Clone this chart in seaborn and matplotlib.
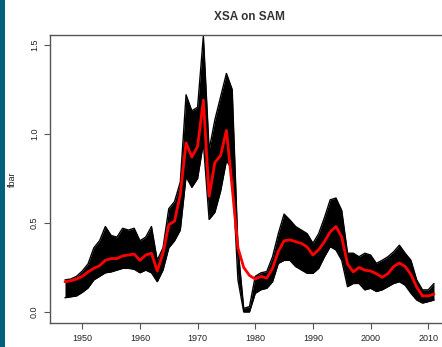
import pandas as pd
import matplotlib
matplotlib.use('Agg')
import matplotlib.pyplot as plt
import seaborn as sns
from matplotlib.patches import Rectangle

# --- data ---
years = list(range(1947, 2012))

# SAM estimate (red line)
fbar_sam = [0.17, 0.175, 0.185, 0.20, 0.225, 0.245, 0.26, 0.29, 0.30, 0.30,
            0.315, 0.32, 0.325, 0.29, 0.32, 0.33, 0.23, 0.33, 0.49, 0.51,
            0.66, 0.95, 0.87, 0.93, 1.19, 0.65, 0.84, 0.88, 1.02, 0.70,
            0.36, 0.25, 0.205, 0.185, 0.20, 0.19, 0.245, 0.34, 0.40, 0.405,
            0.395, 0.385, 0.365, 0.32, 0.35, 0.395, 0.45, 0.48, 0.42, 0.27,
            0.225, 0.25, 0.235, 0.23, 0.215, 0.195, 0.215, 0.255, 0.275, 0.255,
            0.21, 0.14, 0.09, 0.09, 0.10]

# XSA runs (black band): lowest and highest run per year
xsa_low = [0.08, 0.085, 0.09, 0.11, 0.135, 0.18, 0.20, 0.22, 0.225, 0.235,
           0.245, 0.245, 0.24, 0.22, 0.235, 0.22, 0.17, 0.235, 0.36, 0.40,
           0.46, 0.76, 0.70, 0.75, 0.95, 0.52, 0.56, 0.68, 0.85, 0.80,
           0.18, 0.0, 0.0, 0.105, 0.125, 0.133, 0.17, 0.273, 0.29, 0.29,
           0.255, 0.236, 0.217, 0.217, 0.245, 0.31, 0.367, 0.348, 0.29, 0.142,
           0.16, 0.16, 0.124, 0.133, 0.115, 0.124, 0.142, 0.16, 0.17, 0.15,
           0.105, 0.067, 0.05, 0.058, 0.067]
xsa_high = [0.18, 0.185, 0.20, 0.23, 0.27, 0.36, 0.40, 0.48, 0.43, 0.42,
            0.47, 0.46, 0.47, 0.40, 0.42, 0.48, 0.29, 0.36, 0.58, 0.62,
            0.73, 1.22, 1.13, 1.15, 1.55, 0.91, 1.08, 1.21, 1.34, 1.25,
            0.36, 0.02, 0.03, 0.20, 0.22, 0.227, 0.31, 0.44, 0.55, 0.517,
            0.48, 0.46, 0.44, 0.386, 0.44, 0.53, 0.63, 0.64, 0.57, 0.33,
            0.33, 0.31, 0.33, 0.32, 0.273, 0.29, 0.31, 0.338, 0.375, 0.33,
            0.29, 0.18, 0.124, 0.124, 0.16]

x_ticks = [1950, 1960, 1970, 1980, 1990, 2000, 2010]
y_ticks = [0.0, 0.5, 1.0, 1.5]
y_tick_labels = ['0.0', '0.5', '1.0', '1.5']

df = pd.DataFrame({'year': years, 'sam': fbar_sam, 'low': xsa_low, 'high': xsa_high})

# --- plot ---
sns.set_style('white')
plt.rcParams['font.family'] = ['Liberation Sans', 'DejaVu Sans']

fig = plt.figure(figsize=(4.42, 3.47), dpi=100)
ax = fig.add_axes([0.1131, 0.0692, 0.9027, 0.8299])

# black band of XSA runs
ax.fill_between(df['year'], df['low'], df['high'], color='black', linewidth=0, zorder=2)
sns.lineplot(data=df, x='year', y='low', color='black', linewidth=1.0, ax=ax, zorder=2)
sns.lineplot(data=df, x='year', y='high', color='black', linewidth=1.0, ax=ax, zorder=2)

# SAM estimate
sns.lineplot(data=df, x='year', y='sam', color='#ff0000', linewidth=2.0, ax=ax, zorder=3)

ax.set_xlim(1944.4, 2013.6)
ax.set_ylim(-0.062, 1.556)
ax.set_xticks(x_ticks)
ax.set_xticklabels([str(t) for t in x_ticks], fontsize=6.5, color='#222222')
ax.set_yticks(y_ticks)
ax.set_yticklabels(y_tick_labels, fontsize=6.5, color='#222222', rotation=90, va='center')
ax.tick_params(axis='both', direction='out', length=4, width=0.8, color='#555555', pad=4,
               bottom=True, left=True)

for side in ['top', 'bottom', 'left', 'right']:
    ax.spines[side].set_visible(True)
    ax.spines[side].set_color('#555555')
    ax.spines[side].set_linewidth(1.0)

ax.set_xlabel('')
ax.set_ylabel('fbar', fontsize=6.5, labelpad=9, color='#222222')
ax.set_title('XSA on SAM', fontsize=8.5, fontweight='bold', pad=11, color='#333333')

# teal strip on the left edge of the slide
fig.patches.append(Rectangle((0, 0), 5 / 442, 1, transform=fig.transFigure,
                             facecolor='#005f7b', edgecolor='none'))

fig.savefig('out.png', dpi=100)
